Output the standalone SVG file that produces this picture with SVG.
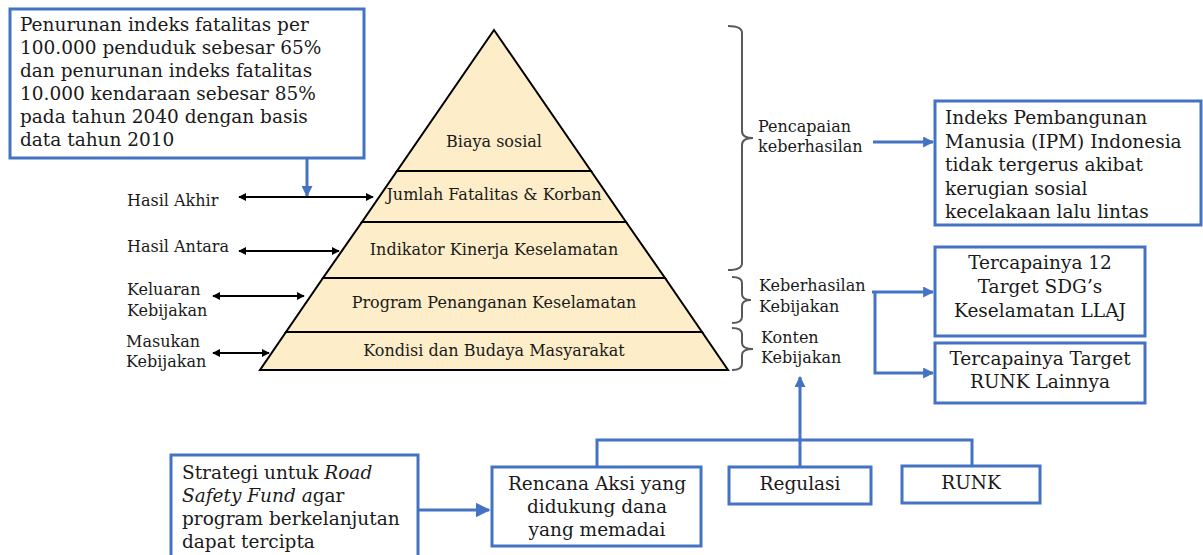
<svg xmlns="http://www.w3.org/2000/svg" width="1203" height="555" viewBox="0 0 1203 555">
<style>
.box{fill:#fff;stroke:#4472C4;stroke-width:3}
.lay{fill:#FDEDC8;stroke:#000;stroke-width:2;stroke-linejoin:miter}
.t{font-family:'DejaVu Serif','Liberation Serif',serif;fill:#1a1a1a}
.big{font-size:18.5px}
.mid{font-size:16px}
.c{text-anchor:middle}
.blue{stroke:#4472C4;stroke-width:3;fill:none}
.blk{stroke:#000;stroke-width:2;fill:none}
.brace{stroke:#595959;stroke-width:2;fill:none}
</style>
<defs>
<marker id="ab" viewBox="0 0 10 10" refX="9" refY="5" markerWidth="11" markerHeight="11" markerUnits="userSpaceOnUse" orient="auto"><path d="M0,0 L10,5 L0,10 z" fill="#4472C4"/></marker>
<marker id="abig" viewBox="0 0 10 10" refX="9" refY="5" markerWidth="15" markerHeight="15" markerUnits="userSpaceOnUse" orient="auto"><path d="M0,0 L10,5 L0,10 z" fill="#4472C4"/></marker>
<marker id="ak" viewBox="0 0 10 10" refX="9" refY="5" markerWidth="8" markerHeight="8" markerUnits="userSpaceOnUse" orient="auto-start-reverse"><path d="M0,0 L10,5 L0,10 z" fill="#000"/></marker>
</defs>

<g id="pyramid">
<g id="layer-biaya"><polygon class="lay" points="494,30 591,171 397,171"/><text class="t mid c" x="494" y="147">Biaya sosial</text></g>
<g id="layer-jumlah"><polygon class="lay" points="397,171 591,171 626,222 362,222"/><text class="t mid c" x="494" y="200">Jumlah Fatalitas &amp; Korban</text></g>
<g id="layer-indikator"><polygon class="lay" points="362,222 626,222 665,278 323,278"/><text class="t mid c" x="494" y="255">Indikator Kinerja Keselamatan</text></g>
<g id="layer-program"><polygon class="lay" points="323,278 665,278 702,332 286,332"/><text class="t mid c" x="494" y="308">Program Penanganan Keselamatan</text></g>
<g id="layer-kondisi"><polygon class="lay" points="286,332 702,332 728,370 260,370"/><text class="t mid c" x="494" y="356">Kondisi dan Budaya Masyarakat</text></g>
</g>

<g id="target-box"><rect class="box" x="10" y="9" width="354" height="149"/>
<text class="t big" x="20" y="31">Penurunan indeks fatalitas per</text>
<text class="t big" x="20" y="54">100.000 penduduk sebesar 65%</text>
<text class="t big" x="20" y="77">dan penurunan indeks fatalitas</text>
<text class="t big" x="20" y="100">10.000 kendaraan sebesar 85%</text>
<text class="t big" x="20" y="123">pada tahun 2040 dengan basis</text>
<text class="t big" x="20" y="146">data tahun 2010</text>
</g>

<g id="label-hasil-akhir"><text class="t mid" x="127" y="206">Hasil Akhir</text></g>
<g id="label-hasil-antara"><text class="t mid" x="127" y="252">Hasil Antara</text></g>
<g id="label-keluaran"><text class="t mid" x="127" y="295">Keluaran</text><text class="t mid" x="127" y="316">Kebijakan</text></g>
<g id="label-masukan"><text class="t mid" x="126" y="347">Masukan</text><text class="t mid" x="126" y="367">Kebijakan</text></g>

<g id="brace-pencapaian"><path class="brace" d="M728,26 Q742,26 742,33 V131 Q742,138 753,138 Q742,138 742,145 V263 Q742,270 728,270"/>
<text class="t mid" x="758" y="132">Pencapaian</text><text class="t mid" x="758" y="152">keberhasilan</text></g>
<g id="brace-keberhasilan"><path class="brace" d="M732,277 Q742,277 742,283 V294 Q742,300 751,300 Q742,300 742,306 V317 Q742,323 732,323"/>
<text class="t mid" x="759" y="291">Keberhasilan</text><text class="t mid" x="759" y="312">Kebijakan</text></g>
<g id="brace-konten"><path class="brace" d="M732,328 Q742,328 742,334 V343 Q742,349 753,349 Q742,349 742,355 V364 Q742,370 732,370"/>
<text class="t mid" x="761" y="343">Konten</text><text class="t mid" x="761" y="363">Kebijakan</text></g>

<g id="ipm-box"><rect class="box" x="935" y="101" width="266" height="124"/>
<text class="t big" x="945" y="124">Indeks Pembangunan</text>
<text class="t big" x="945" y="147.5">Manusia (IPM) Indonesia</text>
<text class="t big" x="945" y="171">tidak tergerus akibat</text>
<text class="t big" x="945" y="194.5">kerugian sosial</text>
<text class="t big" x="945" y="218">kecelakaan lalu lintas</text>
</g>
<g id="sdg-box"><rect class="box" x="935" y="247" width="210" height="89"/>
<text class="t big c" x="1040" y="269">Tercapainya 12</text>
<text class="t big c" x="1040" y="293">Target SDG’s</text>
<text class="t big c" x="1040" y="317">Keselamatan LLAJ</text>
</g>
<g id="runk-target-box"><rect class="box" x="935" y="343" width="210" height="60"/>
<text class="t big c" x="1040" y="365">Tercapainya Target</text>
<text class="t big c" x="1040" y="388">RUNK Lainnya</text>
</g>

<g id="strategi-box"><rect class="box" x="171" y="455" width="247" height="115"/>
<text class="t big" x="182" y="479">Strategi untuk <tspan font-style="italic">Road</tspan></text>
<text class="t big" x="182" y="502"><tspan font-style="italic">Safety Fund a</tspan>gar</text>
<text class="t big" x="182" y="525">program berkelanjutan</text>
<text class="t big" x="182" y="548">dapat tercipta</text>
</g>
<g id="rencana-box"><rect class="box" x="492" y="467" width="209" height="79"/>
<text class="t big c" x="597" y="490">Rencana Aksi yang</text>
<text class="t big c" x="597" y="513">didukung dana</text>
<text class="t big c" x="597" y="536">yang memadai</text>
</g>
<g id="regulasi-box"><rect class="box" x="729" y="467" width="142" height="37"/>
<text class="t big c" x="800" y="490">Regulasi</text>
</g>
<g id="runk-box"><rect class="box" x="902" y="466" width="138" height="37"/>
<text class="t big c" x="971" y="489">RUNK</text>
</g>

<g id="connectors">
<line class="blue" x1="307" y1="158" x2="307" y2="196" marker-end="url(#ab)"/>
<line class="blk" x1="239" y1="197" x2="373" y2="197" marker-start="url(#ak)" marker-end="url(#ak)"/>
<line class="blk" x1="239" y1="251" x2="339" y2="251" marker-start="url(#ak)" marker-end="url(#ak)"/>
<line class="blk" x1="213" y1="296" x2="304" y2="296" marker-start="url(#ak)" marker-end="url(#ak)"/>
<line class="blk" x1="213" y1="353" x2="269" y2="353" stroke-width="3" marker-start="url(#ak)" marker-end="url(#ak)"/>
<line class="blue" x1="873" y1="142" x2="933" y2="142" stroke-width="4" marker-end="url(#ab)"/>
<path class="blue" d="M872,292 H933" marker-end="url(#ab)"/>
<path class="blue" d="M875,292 V373 H933" marker-end="url(#ab)"/>
<path class="blue" d="M597,467 V440 H972 V466"/>
<path class="blue" d="M800,467 V377" marker-end="url(#ab)"/>
<line class="blue" x1="418" y1="510" x2="489" y2="510" stroke-width="5" marker-end="url(#abig)"/>
</g>
</svg>
